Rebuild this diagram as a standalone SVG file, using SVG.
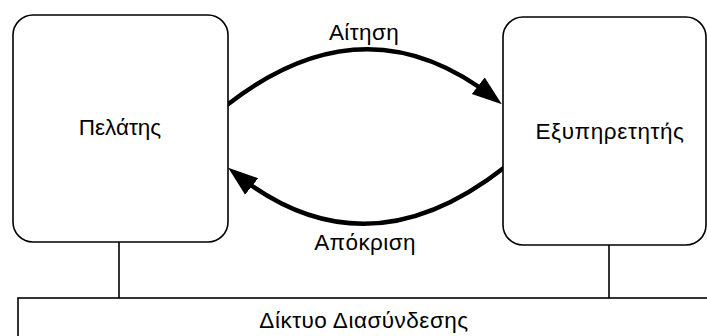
<svg xmlns="http://www.w3.org/2000/svg" width="707" height="336" viewBox="0 0 707 336">
<defs>
<style>
.box{fill:#fff;stroke:#000;stroke-width:1.6}
.lbl{font-family:"Liberation Sans",Arial,sans-serif;font-size:22.5px;fill:#000;text-anchor:middle}
.arc{fill:none;stroke:#000;stroke-width:4.5}
.wire{stroke:#000;stroke-width:1.6}
</style>
<marker id="ah" markerUnits="userSpaceOnUse" markerWidth="32" markerHeight="24" viewBox="0 -12 32 24" refX="20" refY="0" orient="auto">
<path d="M0,-10.5 L30,0 L0,10.5 z" fill="#000"/>
</marker>
</defs>
<rect width="707" height="336" fill="#fff"/>
<g id="connectors">
<line class="wire" x1="119" y1="242" x2="119" y2="298"/>
<line class="wire" x1="609" y1="245" x2="609" y2="298"/>
<path class="arc" d="M227,105 Q365,-3 494,98" marker-end="url(#ah)"/>
<path class="arc" d="M505,167 Q365,277 236,174" marker-end="url(#ah)"/>
<text class="lbl" x="364" y="40" letter-spacing="0.4">Αίτηση</text>
<text class="lbl" x="365" y="250" letter-spacing="0.4">Απόκριση</text>
</g>
<g id="client">
<rect class="box" x="13" y="15" width="215" height="227" rx="20"/>
<text class="lbl" x="120" y="135">Πελάτης</text>
</g>
<g id="server">
<rect class="box" x="503" y="17" width="203" height="228" rx="20"/>
<text class="lbl" x="610" y="139" letter-spacing="0.6">Εξυπηρετητής</text>
</g>
<g id="network">
<rect class="box" x="18" y="298" width="700" height="60"/>
<text class="lbl" x="364" y="328" letter-spacing="0.5">Δίκτυο Διασύνδεσης</text>
</g>
</svg>
